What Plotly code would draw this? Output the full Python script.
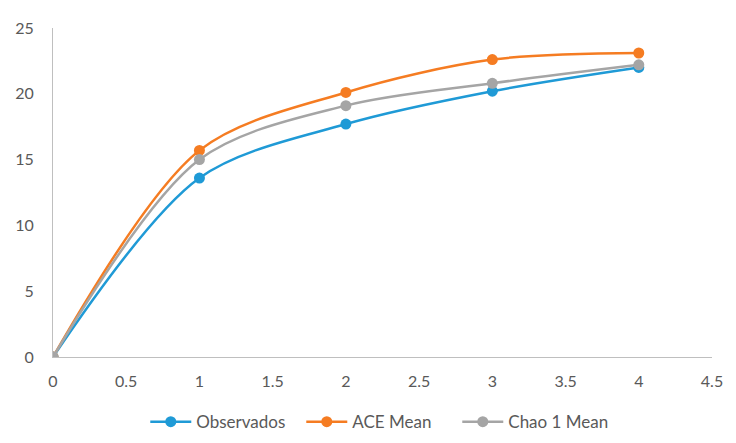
import plotly.graph_objects as go

x_vals = [0, 1, 2, 3, 4]
observados = [0, 13.6, 17.7, 20.2, 22.0]
ace_mean = [0, 15.7, 20.1, 22.6, 23.1]
chao1_mean = [0, 15.0, 19.1, 20.8, 22.2]

series = [
    ("Observados", observados, "#1f9ad6"),
    ("ACE Mean", ace_mean, "#f57c22"),
    ("Chao 1 Mean", chao1_mean, "#a5a5a5"),
]

fig = go.Figure()
for name, vals, color in series:
    fig.add_trace(go.Scatter(
        x=x_vals, y=vals, name=name, mode="lines+markers",
        line=dict(color=color, width=2.5, shape="spline", smoothing=0.9),
        marker=dict(color=color, size=11),
    ))

fig.update_layout(
    width=728, height=435,
    margin=dict(l=45, r=24, t=20, b=86),
    paper_bgcolor="white", plot_bgcolor="white",
    font=dict(family="Lato, Liberation Sans, sans-serif", size=16, color="#595959"),
    showlegend=True,
    legend=dict(orientation="h", x=0.51, xanchor="center", xref="container",
                y=0.048, yanchor="middle", yref="container",
                itemwidth=41, entrywidth=100, entrywidthmode="pixels",
                font=dict(size=17, color="#595959")),
    xaxis=dict(range=[0, 4.5], dtick=0.5, showgrid=False, zeroline=False,
               showline=True, linecolor="#bfbfbf", linewidth=1.2, ticks="",
               ticklabelstandoff=10, automargin=False),
    yaxis=dict(range=[0, 25], dtick=5, showgrid=False, zeroline=False,
               showline=True, linecolor="#bfbfbf", linewidth=1.2, ticks="",
               ticklabelstandoff=15, automargin=False),
)

fig.write_html("out.html")
